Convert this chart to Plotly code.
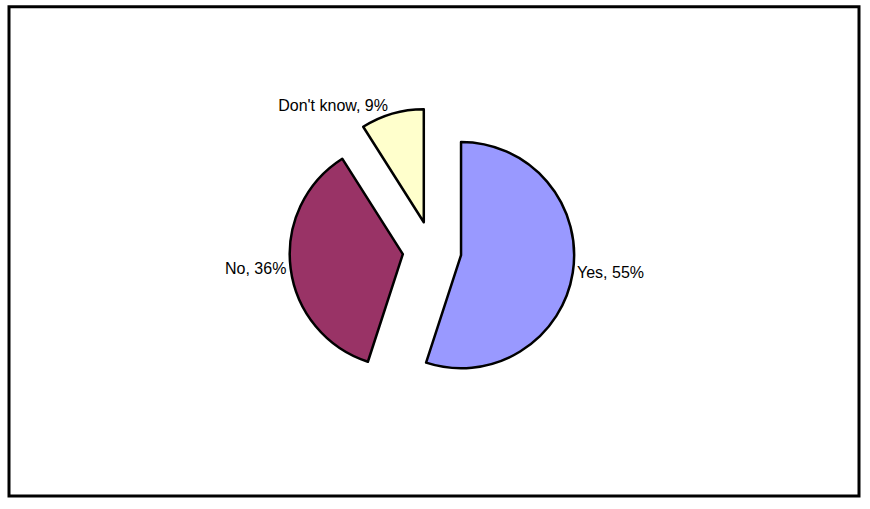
import plotly.graph_objects as go

# Survey answers and their shares
labels = ["Yes", "No", "Don't know"]
shares = [55, 36, 9]
colors = ["#9999FF", "#993366", "#FFFFCC"]

W, H = 870, 509
# plot area (pie domain) in pixels
L, T, PW, PH = 232, 108, 400, 285

fig = go.Figure(
    go.Pie(
        labels=labels,
        values=shares,
        sort=False,
        direction="clockwise",
        rotation=0,
        pull=[0.26, 0.26, 0.26],
        marker=dict(colors=colors, line=dict(color="black", width=2.5)),
        texttemplate="%{label}, %{percent:.0%}",
        textposition="outside",
        textfont=dict(family="Liberation Sans, Arial, sans-serif", size=16, color="black"),
        hoverinfo="label+percent",
        showlegend=False,
    )
)

def px_x(x):
    return (x - L) / PW

def px_y(y):
    return (T + PH - y) / PH

fig.update_layout(
    width=W,
    height=H,
    margin=dict(l=L, r=W - L - PW, t=T, b=H - T - PH, autoexpand=False),
    paper_bgcolor="white",
    plot_bgcolor="white",
    shapes=[
        dict(
            type="rect",
            xref="paper",
            yref="paper",
            x0=px_x(9),
            x1=px_x(859),
            y0=px_y(496),
            y1=px_y(6.7),
            line=dict(color="black", width=3),
            fillcolor="rgba(0,0,0,0)",
            layer="below",
        )
    ],
)

fig.write_html("out.html")
